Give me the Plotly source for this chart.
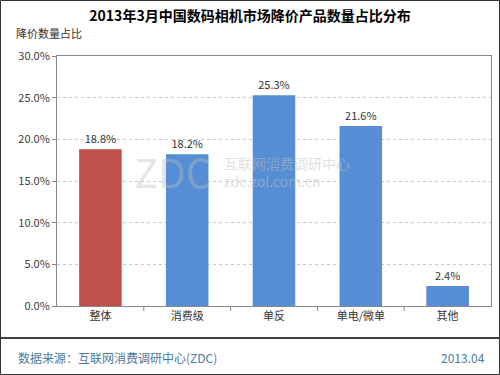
import plotly.graph_objects as go

categories = ["整体", "消费级", "单反", "单电/微单", "其他"]
values = [18.8, 18.2, 25.3, 21.6, 2.4]
bar_colors = ["#C0504D", "#558ED5", "#558ED5", "#558ED5", "#558ED5"]
tick_vals = [0, 5, 10, 15, 20, 25, 30]
tick_text = ["0.0%", "5.0%", "10.0%", "15.0%", "20.0%", "25.0%", "30.0%"]

FONT = "Noto Sans CJK SC, DejaVu Sans, sans-serif"

# plot area in pixels: x 57..491, y 56..306
L, R, T, B = 57, 491, 56, 306
W, H = R - L, B - T


def px(x):
    return (x - L) / W


def py(y):
    return (B - y) / H


fig = go.Figure()
fig.add_trace(go.Bar(
    x=categories, y=values,
    marker=dict(color=bar_colors, line=dict(width=0)),
    width=0.49,
    text=[f"{v:.1f}%" for v in values],
    textposition="outside",
    textfont=dict(size=11, color="#333333", family=FONT),
    cliponaxis=False,
))

fig.update_layout(
    width=500, height=375,
    margin=dict(l=L, r=500 - R, t=T, b=375 - B, autoexpand=False),
    paper_bgcolor="white", plot_bgcolor="white",
    showlegend=False,
    font=dict(family=FONT, size=11, color="#404040"),
    title=dict(text="<b>2013年3月中国数码相机市场降价产品数量占比分布</b>",
               x=0.5, xanchor="center", y=1 - 16 / 375, yanchor="middle",
               font=dict(size=14, color="#000000", family=FONT)),
    xaxis=dict(showline=True, linecolor="#888888", linewidth=1, mirror=True,
               ticks="", tickfont=dict(size=11, color="#333333"),
               showgrid=False, automargin=False),
    yaxis=dict(range=[0, 30], tickvals=tick_vals, ticktext=tick_text,
               showline=True, linecolor="#888888", linewidth=1, mirror=True,
               showgrid=True, gridcolor="#C8C8C8", griddash="dot", gridwidth=1,
               ticks="outside", ticklen=4, tickcolor="#888888",
               tickfont=dict(size=11, color="#404040"), zeroline=False,
               automargin=False),
    shapes=[
        dict(type="line", xref="paper", yref="paper", x0=px(0), x1=px(499),
             y0=py(338), y1=py(338), line=dict(color="#000000", width=1.5)),
        dict(type="rect", xref="paper", yref="paper", x0=px(0.5), x1=px(499.5),
             y0=py(374.5), y1=py(0.5), line=dict(color="#333333", width=1)),
    ] + [
        dict(type="line", xref="x", yref="paper", x0=i + 0.5, x1=i + 0.5,
             y0=0, y1=py(B + 5), line=dict(color="#888888", width=1))
        for i in range(len(categories) - 1)
    ],
    annotations=[
        dict(text="降价数量占比", xref="paper", yref="paper", x=px(14), y=py(33),
             xanchor="left", yanchor="middle", showarrow=False,
             font=dict(size=11, color="#333333")),
        dict(text="数据来源：互联网消费调研中心(ZDC)", xref="paper", yref="paper",
             x=px(16), y=py(357), xanchor="left", yanchor="middle", showarrow=False,
             font=dict(size=12, color="#4A7A9A")),
        dict(text="2013.04", xref="paper", yref="paper", x=px(487), y=py(357),
             xanchor="right", yanchor="middle", showarrow=False,
             font=dict(size=12, color="#4A7A9A")),
        dict(text="ZDC", xref="paper", yref="paper", x=px(172), y=py(171),
             xanchor="center", yanchor="middle", showarrow=False,
             font=dict(size=40, color="rgba(190,190,190,0.4)")),
        dict(text="互联网消费调研中心", xref="paper", yref="paper", x=px(222), y=py(163),
             xanchor="left", yanchor="middle", showarrow=False,
             font=dict(size=14, color="rgba(190,190,190,0.5)")),
        dict(text="zdc.zol.com.cn", xref="paper", yref="paper", x=px(222), y=py(181),
             xanchor="left", yanchor="middle", showarrow=False,
             font=dict(size=14, color="rgba(190,190,190,0.5)")),
    ],
)

fig.write_html("out.html",
               config={"displayModeBar": False},
               post_script="document.body.style.margin='0';document.body.style.overflow='hidden';")
